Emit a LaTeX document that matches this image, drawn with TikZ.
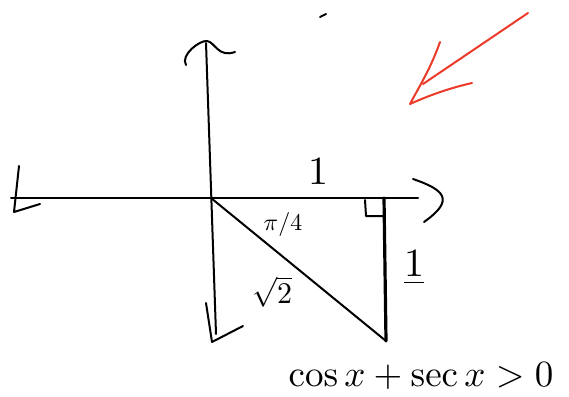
\documentclass[tikz,border=0pt]{standalone}
\usepackage{amsmath}
\usepackage{amsfonts}
\usepackage{graphicx}
\usepackage{tikz}
\usetikzlibrary{arrows.meta}
\definecolor{inkred}{RGB}{236,58,42}

\begin{document}
\begin{tikzpicture}[>=Stealth, x=1pt, y=-1pt, line cap=round, line join=round,
    pen/.style={line width=2pt},
    heavy/.style={line width=3.2pt},
    lbl/.style={inner sep=0pt}]
    \useasboundingbox (0,0) rectangle (569,396);

    % axes
    \coordinate (O) at (211,198);
    \coordinate (xl) at (11,198);
    \coordinate (xr) at (418,198);
    \coordinate (yt) at (206,43);
    \coordinate (yb) at (216,334);
    \draw[pen] (xl) -- (xr);
    \draw[pen] (yt) -- (yb);
    \draw[pen] (19,166) -- (14,212) -- (40,204);
    \draw[pen] (413,179) .. controls (445,190) and (455,200) .. (424,222);
    \draw[pen] (186,65) .. controls (180,55) and (200,40) .. (207,41)
        .. controls (215,42) and (218,58) .. (235,52);
    \draw[pen] (206,303) -- (212,342) -- (243,326);
    \draw[pen] (320,17) -- (326,14);

    % triangle
    \coordinate (P) at (384,198);
    \coordinate (Q) at (386,341);
    \draw[pen] (O) -- (Q);
    \draw[heavy] (P) -- (Q);
    \draw[pen] (365,200) -- (366,216) -- (383,216);

    % labels
    \node[lbl] (top1) at (318,172) {\scalebox{4}{$1$}};
    \node[lbl] (side1) at (414,268) {\scalebox{4}{$\underline{1}$}};
    \node[lbl] (ang) at (283,224) {\scalebox{2.4}{$\pi/4$}};
    \node[lbl] (hyp) at (272,292) {\scalebox{3}{$\sqrt{2}$}};
    \node[lbl] (ineq) at (421,376) {\scalebox{3.7}{$\cos x + \sec x > 0$}};

    % red arrow
    \coordinate (tail) at (528,13);
    \coordinate (tip) at (410,104);
    \draw[pen, inkred] (tail) -- (423,84);
    \draw[pen, inkred] (440,42) .. controls (430,70) and (420,85) .. (tip)
        .. controls (430,95) and (450,88) .. (472,83);
  \end{tikzpicture}
\end{document}
